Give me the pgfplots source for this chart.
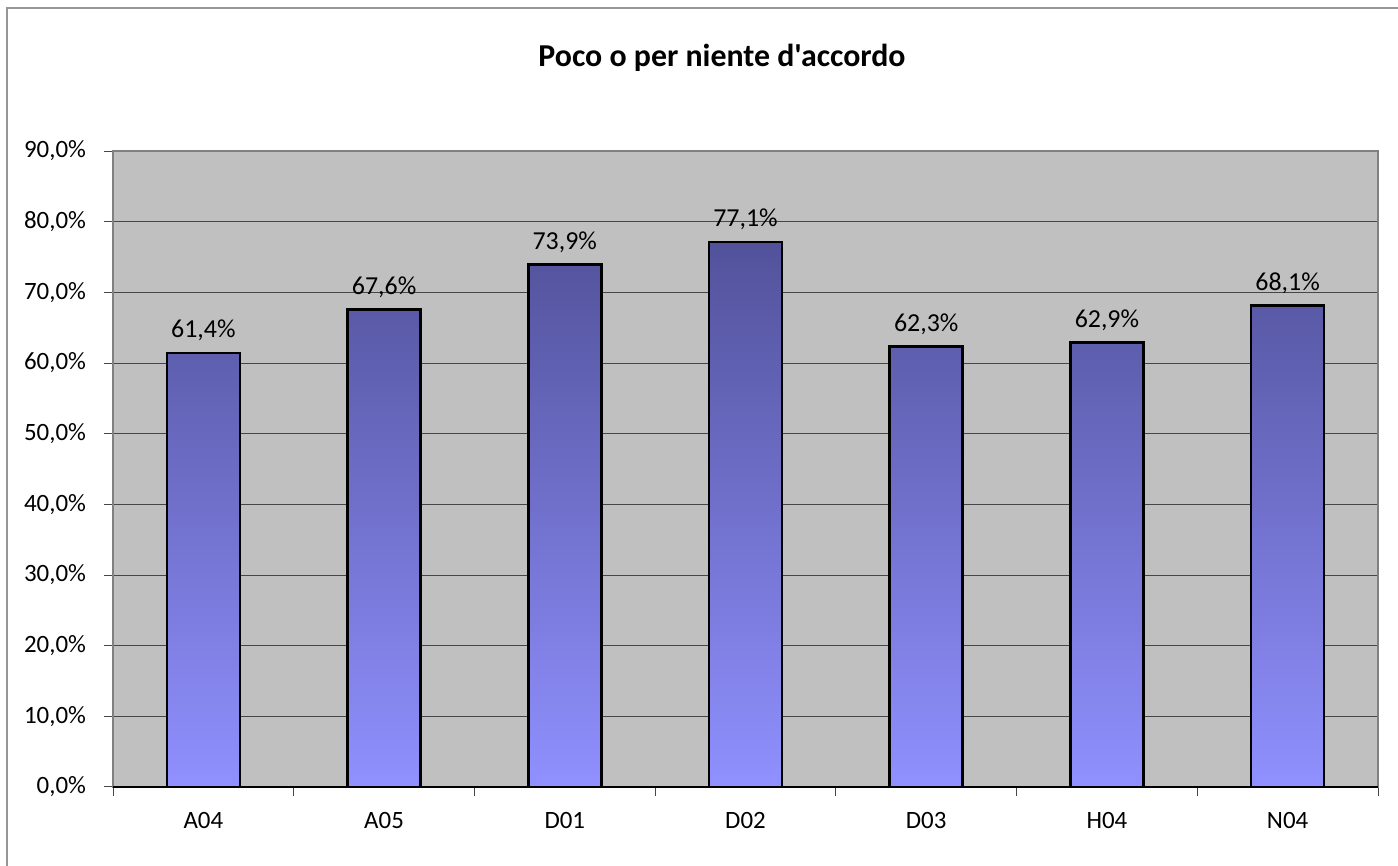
\documentclass[border=0pt]{standalone}
\usepackage{fontspec}
\setmainfont{Carlito}
\newfontfamily\plainfont{Carlito}
\usepackage{pgfplots}
\pgfplotsset{compat=1.18}

\definecolor{plotbg}{RGB}{192,192,192}
\definecolor{bartop}{RGB}{82,82,155}
\definecolor{barbot}{RGB}{144,144,255}
\definecolor{gridc}{RGB}{70,70,70}
\definecolor{framec}{RGB}{150,150,150}

\pgfplotstableread{
x  val  name
0  61.4 A04
1  67.6 A05
2  73.9 D01
3  77.1 D02
4  62.3 D03
5  62.9 H04
6  68.1 N04
}\datatable

\begin{document}
\begin{tikzpicture}
  % canvas and outer chart frame
  \path[use as bounding box] (0,0) rectangle (699bp,433bp);
  \draw[framec, line width=1bp] (3.5bp,0) -- (3.5bp,429bp) -- (699bp,429bp);
  \node[font=\plainfont\bfseries\fontsize{16}{18}\selectfont] at (361bp,404bp) {Poco o per niente d'accordo};

  \begin{axis}[
      at={(56.5bp,39.5bp)}, anchor=south west,
      scale only axis, width=632.5bp, height=318bp,
      ybar, bar width=36.5bp,
      xmin=-0.5, xmax=6.5, ymin=0, ymax=90,
      /pgf/number format/assume math mode=true,
      axis background/.style={fill=plotbg},
      axis line style={draw=gray, line width=0.8bp},
      ytick={0,10,...,90},
      yticklabel={\pgfmathprintnumber[fixed,fixed zerofill,precision=1,use comma]{\tick}\%},
      yticklabel style={font=\fontsize{12.5}{14}\selectfont, xshift=-5.5bp},
      xtick={-0.5,0.5,...,6.5}, xticklabels={},
      extra x ticks={0,1,2,3,4,5,6},
      extra x tick labels={A04,A05,D01,D02,D03,H04,N04},
      extra x tick style={major tick length=0pt, grid=none,
        xticklabel style={font=\fontsize{12.5}{14}\selectfont, yshift=-9bp}},
      tick align=outside, major tick length=4.5bp,
      tick style={draw=gridc, line width=0.5bp},
      xtick pos=bottom, ytick pos=left,
      ymajorgrids, grid style={draw=gridc, line width=0.5bp},
      nodes near coords={\pgfmathprintnumber[fixed,fixed zerofill,precision=1,use comma]{\pgfplotspointmeta}\%},
      every node near coord/.append style={font=\fontsize{13}{15}\selectfont, yshift=2bp},
      clip=false,
    ]
    \addplot[draw=black, line width=1.3bp, top color=bartop, bottom color=barbot]
      table[x=x, y=val] {\datatable};
    \draw[black, line width=1bp] (axis cs:-0.5,0) -- (axis cs:6.5,0);
  \end{axis}
\end{tikzpicture}
\end{document}
